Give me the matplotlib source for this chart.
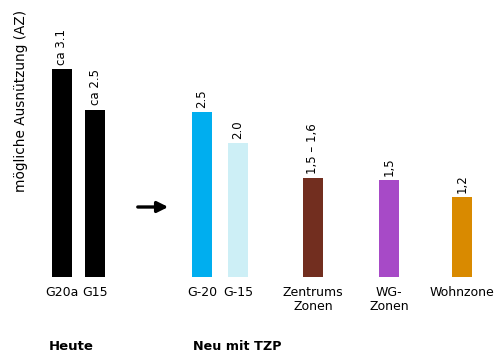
import numpy as np
import matplotlib.pyplot as plt

# Werte
categories = ['G20a', 'G15', 'G-20', 'G-15', 'Zentrums\nZonen', 'WG-\nZonen', 'Wohnzone']
values = [3.1, 2.5, 2.46, 2.0, 1.48, 1.45, 1.19]
value_labels = ['ca 3.1', 'ca 2.5', '2.5', '2.0', '1,5 – 1,6', '1,5', '1,2']
colors = ['#000000', '#000000', '#00AEEF', '#CDEFF6', '#722E1F', '#A74AC7', '#D98A00']
groups = ['Heute', 'Neu mit TZP']

# Layout (Pixel-Koordinaten, 67 px pro AZ-Einheit)
xpos = [62, 95.5, 202, 238, 313, 389, 462]
scale = 67.0
base = 277

fig = plt.figure(figsize=(5.02, 3.56), dpi=100)
ax = fig.add_axes([0, 0, 1, 1])
ax.set_xlim(0, 502)
ax.set_ylim((base - 356) / scale, base / scale)
ax.axis('off')

ax.bar(xpos, values, width=20, color=colors)

for x, v, lab in zip(xpos, values, value_labels):
    ax.text(x, v + 0.06, lab, rotation=90, ha='center', va='bottom', fontsize=8.5)

for x, cat in zip(xpos, categories):
    ax.text(x, (base - 286) / scale, cat, ha='center', va='top', fontsize=9,
            linespacing=1.15)

ax.text(21, (base - 101) / scale, 'mögliche Ausnützung (AZ)', rotation=90,
        ha='center', va='center', fontsize=9.8)

ax.text(71, (base - 347) / scale, groups[0], ha='center', va='center',
        fontsize=9.5, fontweight='bold')
ax.text(193, (base - 346) / scale, groups[1], ha='left', va='center',
        fontsize=9.2, fontweight='bold')

ay = (base - 207) / scale
ax.annotate('', xy=(171, ay), xytext=(135, ay),
            arrowprops=dict(arrowstyle='-|>', color='black', lw=2.4,
                            mutation_scale=16))

fig.savefig('out.png', dpi=100)
